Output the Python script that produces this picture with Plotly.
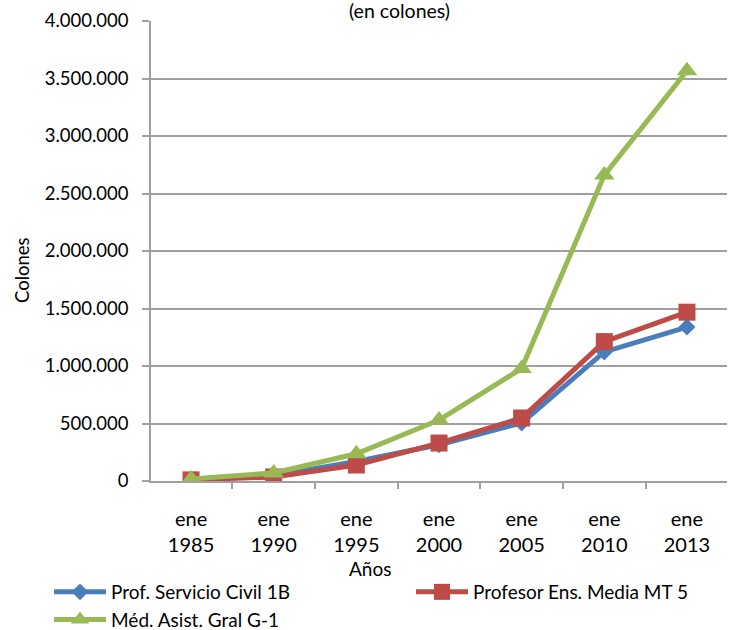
import plotly.graph_objects as go

categories = ["ene<br>1985", "ene<br>1990", "ene<br>1995", "ene<br>2000", "ene<br>2005", "ene<br>2010", "ene<br>2013"]
prof_servicio_civil = [15000, 45000, 170000, 315000, 505000, 1122000, 1339000]
profesor_ens_media = [10000, 35000, 139000, 330000, 548000, 1212000, 1468000]
med_asist_gral = [18000, 70000, 237000, 530000, 978000, 2660000, 3568000]
y_ticks = [0, 500000, 1000000, 1500000, 2000000, 2500000, 3000000, 3500000, 4000000]

FONT = "Lato"
fig = go.Figure()
fig.add_trace(go.Scatter(x=categories, y=prof_servicio_civil, name="Prof. Servicio Civil 1B",
                         mode="lines+markers", line=dict(color="#4A7EBB", width=5),
                         marker=dict(symbol="diamond", size=13, color="#4A7EBB")))
fig.add_trace(go.Scatter(x=categories, y=profesor_ens_media, name="Profesor Ens. Media MT 5",
                         mode="lines+markers", line=dict(color="#BE4B48", width=5),
                         marker=dict(symbol="square", size=17, color="#BE4B48")))
fig.add_trace(go.Scatter(x=categories, y=med_asist_gral, name="Méd. Asist. Gral G-1",
                         mode="lines+markers", line=dict(color="#98B954", width=5),
                         marker=dict(symbol="triangle-up", size=18, color="#98B954")))

fig.update_layout(
    width=733, height=630,
    margin=dict(l=151, r=6, t=21, b=149, autoexpand=False),
    paper_bgcolor="white", plot_bgcolor="white",
    separators=",.",
    font=dict(family=FONT, size=19, color="#000000"),
    showlegend=True,
    legend=dict(orientation="h", x=(49 - 151) / 576, y=-(573 - 481) / 460,
                xanchor="left", yanchor="top",
                entrywidth=295, entrywidthmode="pixels", itemwidth=52,
                font=dict(family=FONT, size=19, color="#000000"),
                bgcolor="rgba(0,0,0,0)"),
    xaxis=dict(type="category", showgrid=False, showline=True, linecolor="#A0A0A0", linewidth=1.5,
               ticks="outside", ticklen=6, tickcolor="#A0A0A0", tickwidth=1.5,
               tickson="boundaries", ticklabelstandoff=19, automargin=False,
               tickfont=dict(family=FONT, size=20, color="#000000")),
    yaxis=dict(range=[0, 4000000], tickvals=y_ticks, tickformat=",d",
               showgrid=True, gridcolor="#A0A0A0", gridwidth=1.5,
               showline=True, linecolor="#A0A0A0", linewidth=1.5,
               ticks="outside", ticklen=7, tickcolor="#A0A0A0", tickwidth=1.5,
               ticklabelstandoff=10, zeroline=False, automargin=False,
               tickfont=dict(family=FONT, size=18.5, color="#000000")),
    annotations=[
        dict(text="(en colones)", xref="paper", yref="paper", x=(399 - 151) / 576, y=(481 - 11) / 460,
             xanchor="center", yanchor="middle", showarrow=False,
             font=dict(family=FONT, size=19.5, color="#000000")),
        dict(text="Colones", xref="paper", yref="paper", x=(22 - 151) / 576, y=(481 - 270) / 460,
             xanchor="center", yanchor="middle", textangle=-90, showarrow=False,
             font=dict(family=FONT, size=18.5, color="#000000")),
        dict(text="Años", xref="paper", yref="paper", x=(370 - 151) / 576, y=(481 - 568) / 460,
             xanchor="center", yanchor="middle", showarrow=False,
             font=dict(family=FONT, size=19, color="#000000")),
    ],
)

fig.write_html("out.html", config={"displayModeBar": False},
               post_script="document.body.style.margin='0';document.body.style.padding='0';")
